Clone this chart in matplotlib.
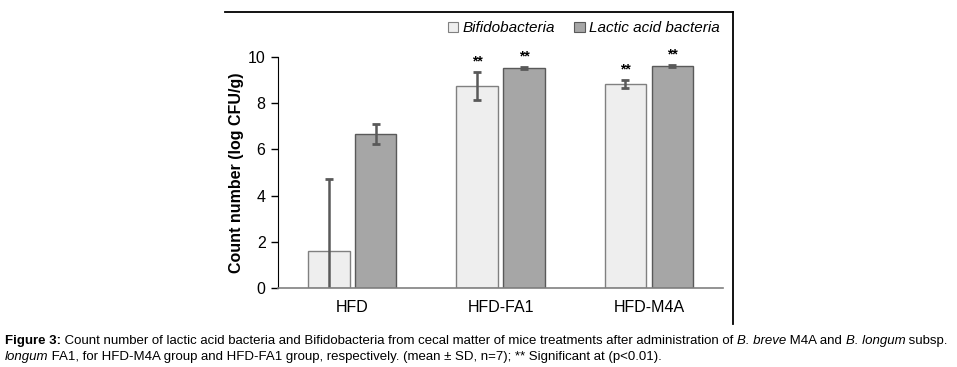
import matplotlib
matplotlib.use("Agg")
import matplotlib.pyplot as plt
import numpy as np
from matplotlib.lines import Line2D
from matplotlib.patches import Patch

plt.rcParams["font.family"] = ["Liberation Sans", "DejaVu Sans"]

groups = ["HFD", "HFD-FA1", "HFD-M4A"]
series = ["Bifidobacteria", "Lactic acid bacteria"]
bifido_mean = [1.6, 8.75, 8.82]
bifido_sd = [3.12, 0.62, 0.18]
lactic_mean = [6.67, 9.52, 9.6]
lactic_sd = [0.45, 0.04, 0.05]
bifido_sig = ["", "**", "**"]
lactic_sig = ["", "**", "**"]

COL_B, EDGE_B = "#eeeeee", "#808080"
COL_L, EDGE_L = "#a6a6a6", "#595959"
ERR = "#595959"

fig = plt.figure(figsize=(9.57, 3.67), dpi=100)
ax = fig.add_axes([0.2905, 0.2153, 0.465, 0.6294])

x = np.arange(len(groups))
w, off = 0.28, 0.158
ax.bar(x - off, bifido_mean, w, color=COL_B, edgecolor=EDGE_B, linewidth=1.0,
       yerr=bifido_sd, error_kw=dict(ecolor=ERR, elinewidth=1.8, capsize=3, capthick=2))
ax.bar(x + off, lactic_mean, w, color=COL_L, edgecolor=EDGE_L, linewidth=1.0,
       yerr=lactic_sd, error_kw=dict(ecolor=ERR, elinewidth=1.8, capsize=3, capthick=2))

for i in range(len(groups)):
    if bifido_sig[i]:
        ax.text(x[i] - off, bifido_mean[i] + bifido_sd[i] + 0.15, bifido_sig[i],
                ha="center", va="bottom", fontsize=10, fontweight="bold", clip_on=False)
    if lactic_sig[i]:
        ax.text(x[i] + off, lactic_mean[i] + lactic_sd[i] + 0.15, lactic_sig[i],
                ha="center", va="bottom", fontsize=10, fontweight="bold", clip_on=False)

ax.set_xlim(-0.5, 2.5)
ax.set_ylim(0, 10)
ax.set_yticks([0, 2, 4, 6, 8, 10])
ax.set_xticks(x)
ax.set_xticklabels(groups, fontsize=11.5)
ax.tick_params(axis="y", labelsize=11.5, length=5, width=1, color="black", pad=4)
ax.tick_params(axis="x", length=0, pad=9)
for s in ["top", "right"]:
    ax.spines[s].set_visible(False)
ax.spines["left"].set_color("black")
ax.spines["bottom"].set_color("#808080")
ax.spines["bottom"].set_linewidth(1.2)
ax.set_ylabel("Count number (log CFU/g)", fontsize=11.5, fontweight="bold", labelpad=3)

handles = [Patch(facecolor=COL_B, edgecolor=EDGE_B, linewidth=0.8),
           Patch(facecolor=COL_L, edgecolor=EDGE_L, linewidth=0.8)]
fig.legend(handles, series, loc="center", bbox_to_anchor=(0.61, 0.923), ncol=2,
           frameon=False, prop=dict(style="italic", size=11), handlelength=0.7,
           handleheight=0.7, handletextpad=0.3, columnspacing=1.2)

# frame around the chart (top and right edges only are visible)
fig.add_artist(Line2D([225 / 957, 733 / 957], [1 - 12 / 367, 1 - 12 / 367],
                      transform=fig.transFigure, color="black", linewidth=1.3))
fig.add_artist(Line2D([733 / 957, 733 / 957], [1 - 12 / 367, 1 - 324 / 367],
                      transform=fig.transFigure, color="black", linewidth=1.3))

# caption built from pieces so bold / italic parts line up
caption = [
    [("Figure 3:", "bold", "normal"),
     (" Count number of lactic acid bacteria and Bifidobacteria from cecal matter of mice treatments after administration of ", "normal", "normal"),
     ("B. breve", "normal", "italic"), (" M4A and ", "normal", "normal"),
     ("B. longum", "normal", "italic"), (" subsp.", "normal", "normal")],
    [("longum", "normal", "italic"),
     (" FA1, for HFD-M4A group and HFD-FA1 group, respectively. (mean \u00b1 SD, n=7); ** Significant at (p<0.01).", "normal", "normal")],
]
fig.canvas.draw()
renderer = fig.canvas.get_renderer()
ys = [1 - 341 / 367, 1 - 357 / 367]
cap_font = ["Liberation Sans Narrow", "Liberation Sans", "DejaVu Sans"]
for line, y in zip(caption, ys):
    xp = 5 / 957
    for txt, wt, st in line:
        t = fig.text(xp, y, txt, fontsize=9.5, fontweight=wt, style=st,
                     family=cap_font, va="center", ha="left")
        bb = t.get_window_extent(renderer)
        xp += bb.width / fig.bbox.width

fig.savefig("out.png", dpi=100)
